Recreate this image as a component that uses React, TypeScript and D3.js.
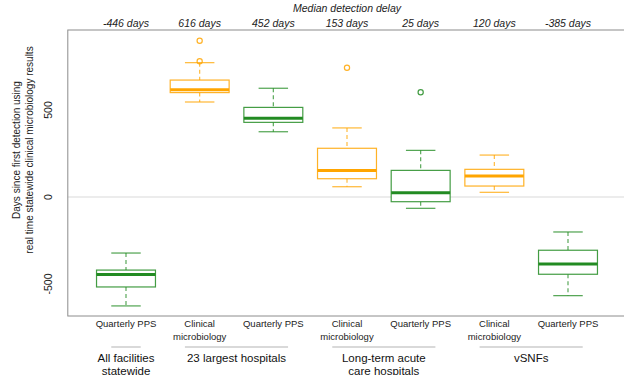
import React from "react";
import * as d3 from "d3";

const categories = ["Quarterly PPS", "Clinical\nmicrobiology", "Quarterly PPS", "Clinical\nmicrobiology", "Quarterly PPS", "Clinical\nmicrobiology", "Quarterly PPS"];
const seriesType = ["pps", "micro", "pps", "micro", "pps", "micro", "pps"];
const whiskerLow = [-626, 546, 375, 59, -65, 27, -567];
const q1 = [-517, 600, 429, 105, -27, 63, -444];
const medians = [-446, 616, 452, 153, 25, 120, -385];
const q3 = [-420, 672, 515, 280, 153, 159, -306];
const whiskerHigh = [-322, 772, 625, 397, 268, 241, -201];
const outliers = [[], [898, 780], [], [743], [602], [], []];
const medianLabels = ["-446 days", "616 days", "452 days", "153 days", "25 days", "120 days", "-385 days"];
const groups = [
  { label: "All facilities\nstatewide", from: 1, to: 1 },
  { label: "23 largest hospitals", from: 2, to: 3 },
  { label: "Long-term acute\ncare hospitals", from: 4, to: 5 },
  { label: "vSNFs", from: 6, to: 7 },
];
const yTicks = [-500, 0, 500];

const colors: Record<string, string> = { pps: "#228B22", micro: "#FFA500" };
const FONT = "Liberation Sans, Arial, Helvetica, sans-serif";

export default function App() {
  const W = 624, H = 375;
  const x = d3.scaleLinear().domain([1, 7]).range([126, 568]);
  const y = d3.scaleLinear().domain([0, 500]).range([197, 110]);
  const unit = x(2) - x(1);
  const halfBox = unit * 0.4;
  const halfCap = unit * 0.2;
  const plotLeft = x(0.5) - unit * 0.29;
  const plotTop = 30, plotBottom = 316;
  const plotRight = x(7.5) + unit * 0.29;

  return (
    <svg width={W} height={H} style={{ position: "absolute", left: 0, top: 0, background: "#fff" }} fontFamily={FONT}>
      {/* zero line */}
      <line x1={plotLeft} x2={plotRight} y1={y(0)} y2={y(0)} stroke="#d9d9d9" strokeWidth={1} />
      {/* plot border */}
      <rect x={plotLeft} y={plotTop} width={plotRight - plotLeft} height={plotBottom - plotTop} fill="none" stroke="#8c8c8c" strokeWidth={1} />
      {/* boxes */}
      {medians.map((m, i) => {
        const cx = x(i + 1);
        const c = colors[seriesType[i]];
        return (
          <g key={i}>
            <line x1={cx} x2={cx} y1={y(whiskerHigh[i])} y2={y(q3[i])} stroke={c} strokeOpacity={0.75} strokeWidth={1.2} strokeDasharray="4,3" />
            <line x1={cx} x2={cx} y1={y(q1[i])} y2={y(whiskerLow[i])} stroke={c} strokeOpacity={0.75} strokeWidth={1.2} strokeDasharray="4,3" />
            <line x1={cx - halfCap} x2={cx + halfCap} y1={y(whiskerHigh[i])} y2={y(whiskerHigh[i])} stroke={c} strokeOpacity={0.8} strokeWidth={1.2} />
            <line x1={cx - halfCap} x2={cx + halfCap} y1={y(whiskerLow[i])} y2={y(whiskerLow[i])} stroke={c} strokeOpacity={0.8} strokeWidth={1.2} />
            <rect x={cx - halfBox} y={y(q3[i])} width={halfBox * 2} height={y(q1[i]) - y(q3[i])} fill="#fff" stroke={c} strokeOpacity={0.85} strokeWidth={1.2} />
            <line x1={cx - halfBox} x2={cx + halfBox} y1={y(m)} y2={y(m)} stroke={c} strokeWidth={3} />
            {outliers[i].map((o, j) => (
              <circle key={j} cx={cx} cy={y(o)} r={2.6} fill="none" stroke={c} strokeOpacity={0.85} strokeWidth={1.2} />
            ))}
          </g>
        );
      })}
      {/* y axis labels */}
      {yTicks.map((t) => (
        <text key={t} transform={`translate(${51.5},${y(t)}) rotate(-90)`} textAnchor="middle" fontSize={10.5} fill="#222">{t}</text>
      ))}
      <text transform={`translate(19.5,150) rotate(-90)`} textAnchor="middle" fontSize={10} fill="#222">Days since first detection using</text>
      <text transform={`translate(32.5,150) rotate(-90)`} textAnchor="middle" fontSize={10} fill="#222">real time statewide clinical microbiology results</text>
      {/* top median labels */}
      <text x={(plotLeft + plotRight) / 2} y={12} textAnchor="middle" fontSize={10.5} fontStyle="italic" fill="#222">Median detection delay</text>
      {medianLabels.map((l, i) => (
        <text key={i} x={x(i + 1)} y={27} textAnchor="middle" fontSize={10.5} fontStyle="italic" fill="#222">{l}</text>
      ))}
      {/* category labels */}
      {categories.map((c, i) => (
        <text key={i} x={x(i + 1)} y={327} textAnchor="middle" fontSize={9.5} fill="#222">
          {c.split("\n").map((s, k) => (
            <tspan key={k} x={x(i + 1)} dy={k === 0 ? 0 : 12.5}>{s}</tspan>
          ))}
        </text>
      ))}
      {/* group lines and labels */}
      {groups.map((g, i) => {
        const x1 = x(g.from) - halfCap;
        const x2 = x(g.to) + halfCap;
        const cx = (x1 + x2) / 2;
        return (
          <g key={i}>
            <line x1={x1} x2={x2} y1={347} y2={347} stroke="#b3b3b3" strokeWidth={1} />
            <text x={cx} y={362} textAnchor="middle" fontSize={11.5} fill="#111">
              {g.label.split("\n").map((s, k) => (
                <tspan key={k} x={cx} dy={k === 0 ? 0 : 13}>{s}</tspan>
              ))}
            </text>
          </g>
        );
      })}
    </svg>
  );
}
